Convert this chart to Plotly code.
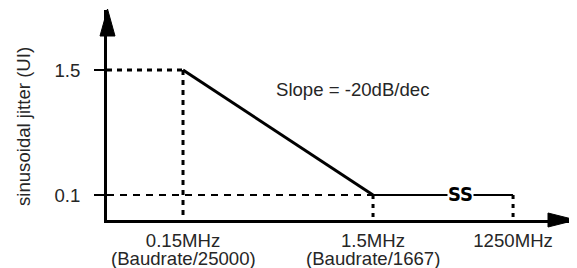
import math
import plotly.graph_objects as go

# ---- data ----
freq_mhz = [0.15, 1.5, 1250]
freq_labels = ["0.15MHz", "1.5MHz", "1250MHz"]
freq_sublabels = ["(Baudrate/25000)", "(Baudrate/1667)", ""]
jitter_ui = [1.5, 0.1, 0.1]
ytick_vals = [1.5, 0.1]
ytick_text = ["1.5", "0.1"]
slope_text = "Slope = -20dB/dec"
y_title = "sinusoidal jitter (UI)"

# broken log axis: beyond the corner frequency the decades are compressed
CORNER = 1.5
COMPRESS = 0.2523


def xpos(f):
    l = math.log10(f)
    c = math.log10(CORNER)
    return l if f <= CORNER else c + (l - c) * COMPRESS


xs = [xpos(f) for f in freq_mhz]

# page has an 8px body margin; the figure is placed at (8, 8)
OFF = 8
PX0, PY0, PW, PH = 107, 10, 468, 210          # plot area in page pixels
W, H = 577 - OFF, 268 - OFF
ML, MT = PX0 - OFF, PY0 - OFF
MR = W - ML - PW
MB = H - MT - PH
XR = [-1.224, 1.239]
YR = [-0.18, 2.172]
YMIN = YR[0]


def px2paper(px, py):
    return (px - PX0) / PW, (PY0 + PH - py) / PH


TXT = "#262626"
FONT = "Arial, Liberation Sans, Helvetica, sans-serif"
FS = 18.6

fig = go.Figure()

# guide lines
fig.add_trace(go.Scatter(x=[XR[0], xs[0]], y=[jitter_ui[0]] * 2, mode="lines",
                         line=dict(color="black", width=3, dash="5px,5px"), hoverinfo="skip"))
fig.add_trace(go.Scatter(x=[xs[0], xs[0]], y=[jitter_ui[0], YMIN], mode="lines",
                         line=dict(color="black", width=3, dash="5px,5px"), hoverinfo="skip"))
fig.add_trace(go.Scatter(x=[XR[0], xs[1]], y=[jitter_ui[1]] * 2, mode="lines",
                         line=dict(color="black", width=2, dash="7px,6px"), hoverinfo="skip"))
for i in (1, 2):
    fig.add_trace(go.Scatter(x=[xs[i], xs[i]], y=[jitter_ui[i], YMIN], mode="lines",
                             line=dict(color="black", width=3, dash="4px,5px"), hoverinfo="skip"))

# jitter mask
fig.add_trace(go.Scatter(x=xs[0:2], y=jitter_ui[0:2], mode="lines",
                         line=dict(color="black", width=3), hoverinfo="skip"))
fig.add_trace(go.Scatter(x=xs[1:3], y=jitter_ui[1:3], mode="lines",
                         line=dict(color="black", width=2.2), hoverinfo="skip"))

# arrows
tx, ty = px2paper(107.5, 9)
bl = px2paper(100, 36)
br = px2paper(115, 36)
rx, ry = px2paper(576, 220)
rt = px2paper(548, 213)
rb = px2paper(548, 227)
fig.add_shape(type="path", xref="paper", yref="paper",
              path=f"M {tx} {ty} L {bl[0]} {bl[1]} L {br[0]} {br[1]} Z",
              fillcolor="black", line=dict(color="black", width=1))
fig.add_shape(type="path", xref="paper", yref="paper",
              path=f"M {rx} {ry} L {rt[0]} {rt[1]} L {rb[0]} {rb[1]} Z",
              fillcolor="black", line=dict(color="black", width=1))

# sub labels
for xv, t in zip(xs, freq_sublabels):
    if t:
        fig.add_annotation(x=xv, xref="x", y=0, yref="paper", yshift=-38, text=t,
                           showarrow=False, xanchor="center", yanchor="middle",
                           font=dict(family=FONT, size=FS, color=TXT))

# slope text
sx, sy = px2paper(353, 89)
fig.add_annotation(x=sx, y=sy, xref="paper", yref="paper", text=slope_text,
                   showarrow=False, xanchor="center", yanchor="middle",
                   font=dict(family=FONT, size=FS, color=TXT))

# axis break symbol
bx, by = px2paper(460, 194)
fig.add_annotation(x=bx, y=by, xref="paper", yref="paper", text="<b>SS</b>",
                   showarrow=False, bgcolor="white", borderpad=0,
                   xanchor="center", yanchor="middle",
                   font=dict(family="DejaVu Sans Condensed, DejaVu Sans", size=20, color="black"))

# y title
ytx, yty = px2paper(23, 127)
fig.add_annotation(x=ytx, y=yty, xref="paper", yref="paper", text=y_title,
                   textangle=-90, showarrow=False, xanchor="center", yanchor="middle",
                   font=dict(family=FONT, size=FS, color=TXT))

fig.update_layout(
    width=W, height=H, margin=dict(l=ML, r=MR, t=MT, b=MB),
    paper_bgcolor="white", plot_bgcolor="white", showlegend=False,
    font=dict(family=FONT, size=FS, color=TXT),
    xaxis=dict(range=XR, showgrid=False, zeroline=False, showline=True,
               linecolor="black", linewidth=3, tickmode="array", tickvals=xs,
               ticktext=freq_labels, ticks="", ticklabelstandoff=2),
    yaxis=dict(range=YR, showgrid=False, zeroline=False, showline=True,
               linecolor="black", linewidth=3, tickmode="array", tickvals=ytick_vals,
               ticktext=ytick_text, ticks="outside", ticklen=10, tickwidth=2,
               tickcolor="black", ticklabelstandoff=10),
)

fig.write_html("out.html")
